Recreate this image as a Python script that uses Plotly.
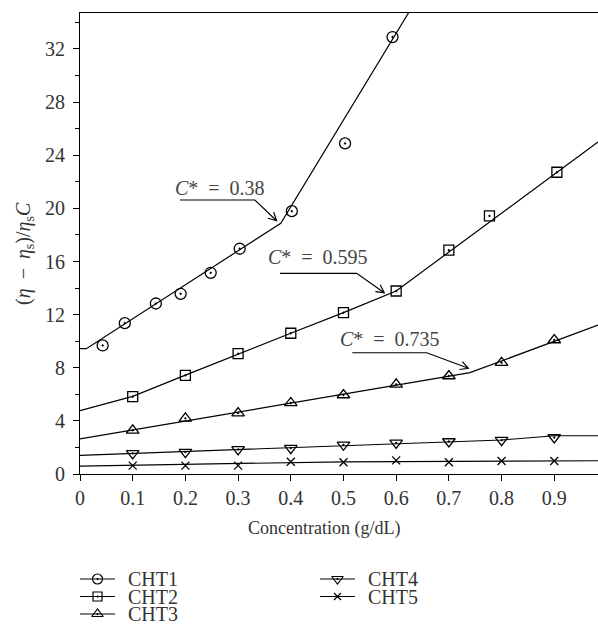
import math
import plotly.graph_objects as go

# ---------------- data ----------------
conc_cht1 = [0.043, 0.085, 0.144, 0.191, 0.248, 0.303, 0.402, 0.503, 0.593]
visc_cht1 = [9.68, 11.36, 12.84, 13.57, 15.15, 16.96, 19.79, 24.89, 32.9]
fit_x_cht1 = [0.0, 0.012, 0.381, 0.64]
fit_y_cht1 = [9.44, 9.44, 18.88, 35.8]

conc_std = [0.1, 0.2, 0.3, 0.4, 0.5, 0.6, 0.7, 0.8, 0.9]

conc_cht2 = [0.1, 0.2, 0.3, 0.4, 0.5, 0.6, 0.7, 0.777, 0.905]
visc_cht2 = [5.82, 7.43, 9.06, 10.6, 12.15, 13.78, 16.85, 19.43, 22.72]
fit_x_cht2 = [0.0, 0.1, 0.2, 0.3, 0.4, 0.5, 0.6, 0.983]
fit_y_cht2 = [4.77, 5.85, 7.45, 9.05, 10.6, 12.15, 13.78, 25.0]

visc_cht3 = [3.29, 4.19, 4.59, 5.35, 5.95, 6.75, 7.38, 8.38, 10.09]
fit_x_cht3 = [0.0, 0.74, 0.983]
fit_y_cht3 = [2.64, 7.63, 11.22]

visc_cht4 = [1.55, 1.65, 1.85, 1.95, 2.2, 2.35, 2.45, 2.55, 2.75]
fit_x_cht4 = [0.0, 0.5, 0.8, 0.9, 0.983]
fit_y_cht4 = [1.41, 2.13, 2.56, 2.88, 2.88]

visc_cht5 = [0.63, 0.63, 0.63, 0.93, 0.88, 1.03, 0.88, 0.98, 0.98]
fit_x_cht5 = [0.0, 0.4, 0.5, 0.983]
fit_y_cht5 = [0.6, 0.82, 0.92, 1.0]

series_names = ["CHT1", "CHT2", "CHT3", "CHT4", "CHT5"]
y_ticks = [0, 4, 8, 12, 16, 20, 24, 28, 32]
x_ticks = [0, 0.1, 0.2, 0.3, 0.4, 0.5, 0.6, 0.7, 0.8, 0.9]

# critical concentration annotations: label, text pos, underline start/end, arrow tip
cstar_labels = ["0.38", "0.595", "0.735"]
cstar_text_xy = [(0.2657, 21.56), (0.4516, 16.36), (0.588, 10.14)]
cstar_line_x0 = [0.190, 0.3795, 0.5167]
cstar_line_x1 = [0.332, 0.525, 0.658]
cstar_line_y = [20.63, 15.11, 9.13]
cstar_tip = [(0.373, 19.07), (0.5774, 13.65), (0.737, 7.96)]

# ---------------- layout constants ----------------
FONT = "Liberation Serif"
TXT = "#333333"
W, H = 598, 630
ML, MT = 80, 13
X_MAX, Y_MAX = 0.983, 34.71
MAIN_BOTTOM = 0.2528
PX_PER_X = (W - ML) / X_MAX
PX_PER_Y = (H - MT) * (1 - MAIN_BOTTOM) / Y_MAX

symbols = ["circle-open-dot", "square-open-dot", "triangle-up-open-dot",
           "triangle-down-open-dot", "x-thin-open"]
sizes = [11, 10, 11, 11, 8]

series = [
    (conc_cht1, visc_cht1, fit_x_cht1, fit_y_cht1),
    (conc_cht2, visc_cht2, fit_x_cht2, fit_y_cht2),
    (conc_std, visc_cht3, fit_x_cht3, fit_y_cht3),
    (conc_std, visc_cht4, fit_x_cht4, fit_y_cht4),
    (conc_std, visc_cht5, fit_x_cht5, fit_y_cht5),
]

fig = go.Figure()
for i, (cx, cy, fx, fy) in enumerate(series):
    fig.add_trace(go.Scatter(x=fx, y=fy, mode="lines",
                             line=dict(color="black", width=1.2),
                             showlegend=False, hoverinfo="skip"))
    fig.add_trace(go.Scatter(x=cx, y=cy, mode="markers", name=series_names[i],
                             marker=dict(symbol=symbols[i], size=sizes[i], color="black",
                                         line=dict(color="black", width=1.3)),
                             showlegend=False))

# ---------------- manual legend on helper axes (pixel units) ----------------
leg_col_x = [80, 320]
leg_row_y = [579, 596.5, 614]
leg_len = 35
leg_gap = 11
for i, name in enumerate(series_names):
    col = 0 if i < 3 else 1
    row = i if i < 3 else i - 3
    x0 = leg_col_x[col]
    y0 = leg_row_y[row]
    fig.add_trace(go.Scatter(x=[x0, x0 + leg_len], y=[y0, y0], mode="lines",
                             line=dict(color="black", width=1.2),
                             xaxis="x2", yaxis="y2", showlegend=False, hoverinfo="skip"))
    fig.add_trace(go.Scatter(x=[x0 + leg_len / 2], y=[y0], mode="markers",
                             marker=dict(symbol=symbols[i], size=sizes[i] - 1, color="black",
                                         line=dict(color="black", width=1.2)),
                             xaxis="x2", yaxis="y2", showlegend=False, hoverinfo="skip"))
    fig.add_annotation(x=x0 + leg_len + leg_gap, y=y0, xref="x2", yref="y2",
                       text=name, showarrow=False, xanchor="left", yanchor="middle",
                       font=dict(family=FONT, size=20, color=TXT))

# x title
fig.add_annotation(x=323.5, y=528, xref="x2", yref="y2", text="Concentration (g/dL)",
                   showarrow=False, xanchor="center", yanchor="middle",
                   font=dict(family=FONT, size=18, color=TXT))
# y title
fig.add_annotation(x=(25 - ML) / (W - ML), y=16.57, xref="paper", yref="y",
                   text="(<i>η</i>\u2009 − \u2009<i>η</i><sub>s</sub>)/<i>η</i><sub>s</sub><i>C</i>",
                   textangle=-90, showarrow=False, xanchor="center", yanchor="middle",
                   font=dict(family=FONT, size=20, color=TXT))

# C* annotations: label, underline, bent leader with open arrow head
HEAD_LEN, HEAD_ANG = 9.0, math.radians(28)
for k in range(3):
    tx, ty = cstar_text_xy[k]
    fig.add_annotation(x=tx, y=ty, xref="x", yref="y",
                       text="<i>C</i>*  =  " + cstar_labels[k], showarrow=False,
                       xanchor="center", yanchor="middle",
                       font=dict(family=FONT, size=20, color="#444444"))
    px, py = cstar_tip[k]
    lx0, lx1, ly = cstar_line_x0[k], cstar_line_x1[k], cstar_line_y[k]
    dxp = (px - lx1) * PX_PER_X
    dyp = (py - ly) * PX_PER_Y
    ang = math.atan2(dyp, dxp)
    arms = []
    for s in (1, -1):
        a = ang + s * HEAD_ANG
        arms.append((px - HEAD_LEN * math.cos(a) / PX_PER_X,
                     py - HEAD_LEN * math.sin(a) / PX_PER_Y))
    path = (f"M{lx0},{ly} L{lx1},{ly} L{px},{py} "
            f"M{arms[0][0]},{arms[0][1]} L{px},{py} L{arms[1][0]},{arms[1][1]}")
    fig.add_shape(type="path", xref="x", yref="y", path=path,
                  line=dict(color="black", width=1.2))

fig.update_layout(
    width=W, height=H,
    margin=dict(l=ML, r=0, t=MT, b=0, autoexpand=False),
    paper_bgcolor="white", plot_bgcolor="white",
    showlegend=False,
    font=dict(family=FONT, size=20, color=TXT),
    xaxis=dict(domain=[0, 1], range=[0, X_MAX], tickvals=x_ticks,
               ticktext=["0"] + [f"{v:.1f}" for v in x_ticks[1:]],
               ticks="outside", ticklen=6, tickwidth=1, tickcolor="black",
               showline=True, linecolor="black", linewidth=1.2, mirror=True,
               showgrid=False, zeroline=False, anchor="y", automargin=False,
               tickfont=dict(family=FONT, size=20, color=TXT)),
    yaxis=dict(domain=[MAIN_BOTTOM, 1], range=[0, Y_MAX], tickvals=y_ticks,
               ticks="outside", ticklen=6, tickwidth=1, tickcolor="black",
               minor=dict(dtick=2, tick0=0, ticks="outside", ticklen=4, tickcolor="black"),
               showline=True, linecolor="black", linewidth=1.2,
               showgrid=False, zeroline=False, anchor="x", automargin=False,
               ticklabelstandoff=4,
               tickfont=dict(family=FONT, size=20, color=TXT)),
    xaxis2=dict(domain=[0, 1], range=[ML, W], visible=False, anchor="y2", fixedrange=True),
    yaxis2=dict(domain=[0, MAIN_BOTTOM], range=[H, 474], visible=False, anchor="x2",
                fixedrange=True),
)

fig.write_html("out.html", config={"displayModeBar": False},
               post_script="document.body.style.margin='0';document.body.style.overflow='hidden';")
